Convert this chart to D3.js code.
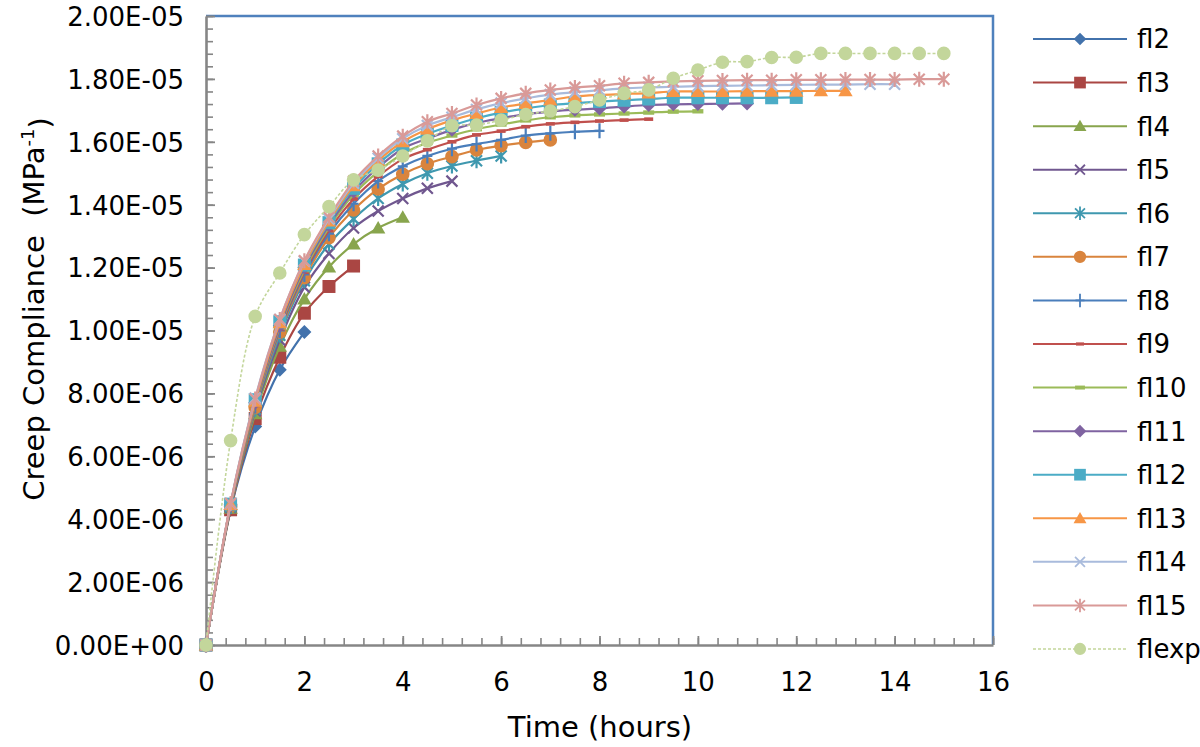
<!DOCTYPE html>
<html>
<head>
<meta charset="utf-8">
<script src="https://cdn.jsdelivr.net/npm/d3@7/dist/d3.min.js"></script>
<style>
  html, body { margin: 0; padding: 0; background: #ffffff; }
  svg { display: block; font-family: "DejaVu Sans", "Liberation Sans", sans-serif; }
</style>
</head>
<body>
<svg id="chart" width="1200" height="747"></svg>
<script>
// ---------------- DATA ----------------
// Time points (hours)
const hours = [0,0.5,1,1.5,2,2.5,3,3.5,4,4.5,5,5.5,6,6.5,7,7.5,8,8.5,9,9.5,10,10.5,11,11.5,12,12.5,13,13.5,14,14.5,15];

// Series names
const seriesNames = ["fl2","fl3","fl4","fl5","fl6","fl7","fl8","fl9","fl10","fl11","fl12","fl13","fl14","fl15","flexp"];

// Creep compliance values, in units of 1E-06 MPa^-1 (one value per time point, from t = 0)
const fl2  = [0,4.30,6.95,8.75,9.95];
const fl3  = [0,4.30,7.20,9.15,10.55,11.40,12.05];
const fl4  = [0,4.35,7.35,9.50,11.00,12.02,12.75,13.26,13.60];
const fl5  = [0,4.38,7.45,9.70,11.38,12.45,13.26,13.80,14.20,14.52,14.75];
const fl6  = [0,4.40,7.50,9.85,11.58,12.75,13.55,14.20,14.66,15.00,15.23,15.40,15.55];
const fl7  = [0,4.42,7.55,9.95,11.68,12.95,13.83,14.50,14.97,15.30,15.53,15.74,15.88,15.98,16.06];
const fl8  = [0,4.43,7.60,10.00,11.78,13.08,14.03,14.75,15.22,15.55,15.78,15.93,16.06,16.20,16.27,16.32,16.35];
const fl9  = [0,4.44,7.62,10.05,11.85,13.18,14.18,14.90,15.45,15.75,16.00,16.22,16.34,16.48,16.57,16.62,16.66,16.69,16.72];
const fl10 = [0,4.45,7.65,10.10,11.92,13.28,14.32,15.05,15.62,15.97,16.20,16.40,16.55,16.68,16.78,16.84,16.87,16.90,16.93,16.96,16.97];
const fl11 = [0,4.46,7.70,10.15,12.00,13.35,14.42,15.18,15.78,16.10,16.38,16.60,16.75,16.88,16.96,17.02,17.06,17.12,17.17,17.19,17.20,17.21,17.22];
const fl12 = [0,4.48,7.80,10.28,12.08,13.43,14.52,15.30,15.90,16.25,16.52,16.75,16.93,17.06,17.17,17.23,17.28,17.32,17.36,17.40,17.40,17.40,17.40,17.40,17.41];
const fl13 = [0,4.47,7.75,10.25,12.10,13.48,14.60,15.40,16.00,16.40,16.68,16.90,17.09,17.22,17.33,17.44,17.49,17.52,17.55,17.60,17.60,17.60,17.61,17.61,17.61,17.62,17.62];
const fl14 = [0,4.50,7.85,10.35,12.20,13.55,14.68,15.48,16.10,16.52,16.78,17.03,17.23,17.38,17.50,17.58,17.64,17.70,17.73,17.75,17.77,17.78,17.79,17.80,17.81,17.82,17.82,17.83,17.83];
const fl15 = [0,4.50,7.82,10.35,12.22,13.60,14.75,15.55,16.18,16.64,16.90,17.17,17.38,17.54,17.65,17.73,17.78,17.86,17.89,17.92,17.94,17.95,17.96,17.96,17.97,17.97,17.98,17.98,17.98,17.99,17.99];
const flexp = [0,6.50,10.45,11.83,13.05,13.94,14.79,15.10,15.55,16.03,16.51,16.53,16.69,16.87,16.98,17.12,17.33,17.54,17.65,18.02,18.28,18.53,18.55,18.68,18.69,18.81,18.81,18.81,18.81,18.81,18.81];

// Axis ticks
const xTicks = [0,2,4,6,8,10,12,14,16];
const yTicks = [0,2,4,6,8,10,12,14,16,18,20];
const yTickLabels = ["0.00E+00","2.00E-06","4.00E-06","6.00E-06","8.00E-06","1.00E-05","1.20E-05","1.40E-05","1.60E-05","1.80E-05","2.00E-05"];

// ---------------- STYLES ----------------
const seriesValues = [fl2,fl3,fl4,fl5,fl6,fl7,fl8,fl9,fl10,fl11,fl12,fl13,fl14,fl15,flexp];
const colors = ["#4272AC","#AA4643","#88A54D","#70578F","#3F98AF","#D9843D","#4A7EBB","#C0504D","#9BBB59","#7F63A1","#4BACC6","#F79646","#A9BBDC","#D99A98","#C3D69B"];
const markers = ["diamond","square","triangle","x","asterisk","circle","plus","dashS","dashL","diamond","square","triangle","x","asterisk","circle"];

function markerPath(type) {
  switch (type) {
    case "diamond":  return "M0,-7L7,0L0,7L-7,0Z";
    case "square":   return "M-6.5,-6.5H6.5V6.5H-6.5Z";
    case "triangle": return "M0,-7L7.2,5.5L-7.2,5.5Z";
    case "circle":   return d3.symbol(d3.symbolCircle, Math.PI * 6.8 * 6.8)();
    case "x":        return "M-5.5,-5.5L5.5,5.5M-5.5,5.5L5.5,-5.5";
    case "asterisk": return "M-5.5,-5.5L5.5,5.5M-5.5,5.5L5.5,-5.5M0,-7.5L0,7.5";
    case "plus":     return "M-5,0L5,0M0,-7.5L0,7.5";
    case "dashS":    return "M-4.5,-1.8H4.5V1.8H-4.5Z";
    case "dashL":    return "M-5.5,-2.2H5.5V2.2H-5.5Z";
  }
}
const strokeMarkers = new Set(["x","asterisk","plus"]);

// ---------------- CHART ----------------
const svg = d3.select("#chart");
const x = d3.scaleLinear().domain([0, 16]).range([206, 993]);
const y = d3.scaleLinear().domain([0, 20]).range([645, 16]);
const axisColor = "#868686";

// Plot border (top & right blue)
svg.append("path")
  .attr("d", `M${x(0)},${y(20)}H${x(16)}V${y(0)}`)
  .attr("fill", "none").attr("stroke", "#4F81BD").attr("stroke-width", 2.5);

// Minor ticks
const xMinor = d3.range(0, 16.001, 0.4);
const yMinor = d3.range(0, 20.001, 0.4);
svg.append("g").attr("transform", `translate(0,${y(0)})`)
  .call(d3.axisBottom(x).tickValues(xMinor).tickSize(-7).tickFormat(""))
  .call(g => g.select(".domain").remove())
  .call(g => g.selectAll("line").attr("stroke", axisColor).attr("stroke-width", 1.6));
svg.append("g").attr("transform", `translate(${x(0)},0)`)
  .call(d3.axisLeft(y).tickValues(yMinor).tickSize(-7).tickFormat(""))
  .call(g => g.select(".domain").remove())
  .call(g => g.selectAll("line").attr("stroke", axisColor).attr("stroke-width", 1.6));

// Major axes
const xAxis = svg.append("g").attr("transform", `translate(0,${y(0)})`)
  .call(d3.axisBottom(x).tickValues(xTicks).tickSize(-9).tickSizeOuter(0).tickPadding(28).tickFormat(d3.format("d")));
const yAxis = svg.append("g").attr("transform", `translate(${x(0)},0)`)
  .call(d3.axisLeft(y).tickValues(yTicks).tickSize(-9).tickSizeOuter(0).tickPadding(22)
    .tickFormat((d, i) => yTickLabels[i]));
[xAxis, yAxis].forEach(g => {
  g.select(".domain").attr("stroke", axisColor).attr("stroke-width", 2.6);
  g.selectAll("line").attr("stroke", axisColor).attr("stroke-width", 1.8);
  g.selectAll("text").attr("fill", "#000").style("font-size", "26px")
    .style("font-family", "'DejaVu Sans', sans-serif");
});
yAxis.selectAll("text").attr("dy", "0.36em");
xAxis.selectAll("text").attr("dy", "0.71em");

// Series
const line = d3.line()
  .x(d => x(d.t)).y(d => y(d.v))
  .curve(d3.curveCatmullRom.alpha(0.5));

const seriesData = seriesNames.map((name, i) => ({
  name, color: colors[i], marker: markers[i], dashed: name === "flexp",
  points: seriesValues[i].map((v, j) => ({ t: hours[j], v }))
}));

const gSeries = svg.append("g");
seriesData.forEach(s => {
  const g = gSeries.append("g");
  g.append("path").datum(s.points)
    .attr("d", line).attr("fill", "none")
    .attr("stroke", s.color).attr("stroke-width", s.dashed ? 1.6 : 2.2)
    .attr("stroke-dasharray", s.dashed ? "3,2" : null);
  const isStroke = strokeMarkers.has(s.marker);
  g.selectAll("path.m").data(s.points).join("path").attr("class", "m")
    .attr("transform", d => `translate(${x(d.t)},${y(d.v)})`)
    .attr("d", markerPath(s.marker))
    .attr("fill", isStroke ? "none" : s.color)
    .attr("stroke", isStroke ? s.color : "none")
    .attr("stroke-width", isStroke ? 2.2 : 0);
});

// Axis titles
svg.append("text")
  .attr("x", 600).attr("y", 737).attr("text-anchor", "middle")
  .style("font-size", "29px").attr("fill", "#000")
  .text("Time (hours)");

const yt = svg.append("text")
  .attr("transform", "translate(44,309) rotate(-90)")
  .attr("text-anchor", "middle")
  .style("font-size", "29px").style("white-space", "pre").attr("fill", "#000");
yt.append("tspan").text("Creep Compliance  (MPa");
yt.append("tspan").attr("dy", "-0.55em").style("font-size", "18px").text("-1");
yt.append("tspan").attr("dy", "0.55em").text(")");

// Legend
const legend = svg.append("g");
seriesData.forEach((s, i) => {
  const ly = 39 + i * 43.57;
  const g = legend.append("g").attr("transform", `translate(0,${ly})`);
  g.append("line").attr("x1", 1033).attr("x2", 1127).attr("y1", 0).attr("y2", 0)
    .attr("stroke", s.color).attr("stroke-width", s.dashed ? 1.6 : 2)
    .attr("stroke-dasharray", s.dashed ? "3,2" : null);
  const isStroke = strokeMarkers.has(s.marker);
  g.append("path").attr("transform", "translate(1080,0) scale(0.9)")
    .attr("d", markerPath(s.marker))
    .attr("fill", isStroke ? "none" : s.color)
    .attr("stroke", isStroke ? s.color : "none")
    .attr("stroke-width", isStroke ? 2 : 0);
  g.append("text").attr("x", 1137).attr("y", 0).attr("dy", "0.36em")
    .style("font-size", "26px").attr("fill", "#000").text(s.name);
});
</script>
</body>
</html>
